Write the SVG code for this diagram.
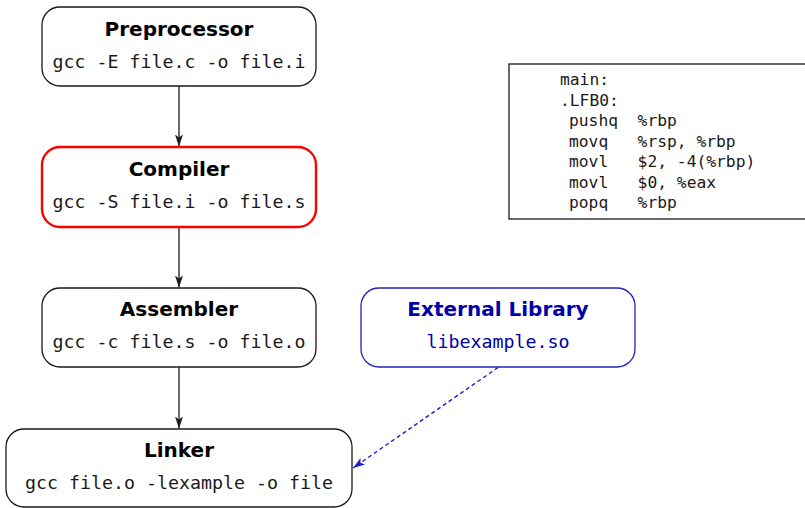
<svg xmlns="http://www.w3.org/2000/svg" width="805" height="508" viewBox="0 0 805 508">
  <style>
    .box { fill: #ffffff; stroke: #1a1a1a; stroke-width: 1.3; }
    .box-red { fill: #ffffff; stroke: #ff0000; stroke-width: 2.4; }
    .box-blue { fill: #ffffff; stroke: #2222b4; stroke-width: 1.3; }
    .title { font-family: "DejaVu Sans", "Liberation Sans", sans-serif; font-weight: bold; font-size: 20px; text-anchor: middle; fill: #000000; }
    .cmd { font-family: "DejaVu Sans Mono", "Liberation Mono", monospace; font-size: 18.3px; text-anchor: middle; fill: #1a1a1a; }
    .blue { fill: #0000aa; }
    .code { font-family: "DejaVu Sans Mono", "Liberation Mono", monospace; font-size: 16.3px; fill: #1a1a1a; white-space: pre; }
    .edge { fill: none; stroke: #1a1a1a; stroke-width: 1.3; }
    .edge-dash { fill: none; stroke: #1a1acc; stroke-width: 1.4; stroke-dasharray: 4 3; }
  </style>
  <defs>
    <marker id="arrow" viewBox="0 0 12 10" refX="12" refY="5" markerWidth="12" markerHeight="10" markerUnits="userSpaceOnUse" orient="auto">
      <path d="M0,1 L12,5 L0,9 L3,5 z" fill="#1a1a1a"/>
    </marker>
    <marker id="arrow-blue" viewBox="0 0 12 10" refX="12" refY="5" markerWidth="12" markerHeight="10" markerUnits="userSpaceOnUse" orient="auto">
      <path d="M0,1 L12,5 L0,9 L3,5 z" fill="#1a1acc"/>
    </marker>
  </defs>

  <!-- connectors -->
  <g id="connectors">
    <line class="edge" x1="179" y1="86" x2="179" y2="146.5" marker-end="url(#arrow)"/>
    <line class="edge" x1="179" y1="227" x2="179" y2="287.5" marker-end="url(#arrow)"/>
    <line class="edge" x1="179" y1="367" x2="179" y2="428.5" marker-end="url(#arrow)"/>
    <line class="edge-dash" x1="498" y1="367.5" x2="353" y2="468" marker-end="url(#arrow-blue)"/>
  </g>

  <g id="preprocessor">
    <rect class="box" x="42" y="7" width="274" height="79" rx="18"/>
    <text class="title" x="179" y="36">Preprocessor</text>
    <text class="cmd" x="179" y="68">gcc -E file.c -o file.i</text>
  </g>

  <g id="compiler">
    <rect class="box-red" x="42" y="147" width="274" height="80" rx="18"/>
    <text class="title" x="179" y="176">Compiler</text>
    <text class="cmd" x="179" y="208">gcc -S file.i -o file.s</text>
  </g>

  <g id="assembler">
    <rect class="box" x="42" y="288" width="274" height="79" rx="18"/>
    <text class="title" x="179" y="316">Assembler</text>
    <text class="cmd" x="179" y="348">gcc -c file.s -o file.o</text>
  </g>

  <g id="linker">
    <rect class="box" x="6" y="429" width="346" height="78" rx="18"/>
    <text class="title" x="179" y="457">Linker</text>
    <text class="cmd" x="179" y="489">gcc file.o -lexample -o file</text>
  </g>

  <g id="external-library">
    <rect class="box-blue" x="361" y="288" width="274" height="79" rx="18"/>
    <text class="title blue" x="498" y="316">External Library</text>
    <text class="cmd blue" x="498" y="348">libexample.so</text>
  </g>

  <g id="assembly-listing">
    <rect x="509" y="64" width="300" height="155" fill="#ffffff" stroke="#1a1a1a" stroke-width="1.3"/>
    <text class="code" x="560" y="85" xml:space="preserve">main:</text>
    <text class="code" x="560" y="105.5" xml:space="preserve">.LFB0:</text>
    <text class="code" x="569" y="126" xml:space="preserve">pushq  %rbp</text>
    <text class="code" x="569" y="146.5" xml:space="preserve">movq   %rsp, %rbp</text>
    <text class="code" x="569" y="167" xml:space="preserve">movl   $2, -4(%rbp)</text>
    <text class="code" x="569" y="187.5" xml:space="preserve">movl   $0, %eax</text>
    <text class="code" x="569" y="208" xml:space="preserve">popq   %rbp</text>
  </g>
</svg>
